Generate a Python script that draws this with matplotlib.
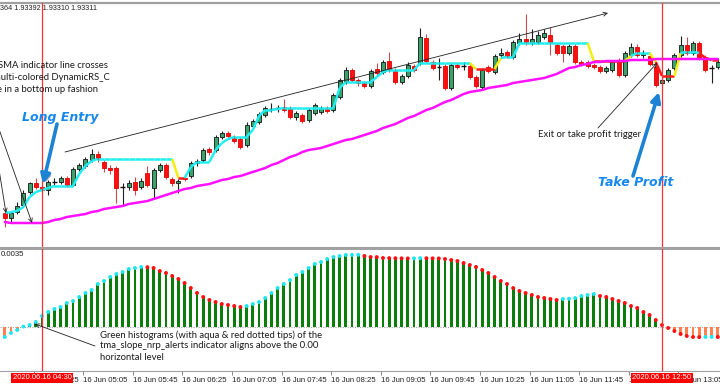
import numpy as np
import pandas as pd
import matplotlib
matplotlib.use("Agg")
import matplotlib.pyplot as plt
from matplotlib.collections import LineCollection
from matplotlib import patheffects as pe
import matplotlib.transforms as mtransforms

# 5 minute bars of 16 Jun 2020, prices in points above 1.92000
times = pd.date_range("2020-06-16 04:00", periods=116, freq="5min")

opens = [435, 410, 440, 475, 540, 585, 565, 550, 590, 590,
         610, 575, 655, 670, 700, 730, 690, 660, 660, 565,
         565, 590, 565, 635, 560, 650, 675, 605, 585, 610,
         620, 685, 700, 755, 750, 815, 835, 815, 805, 775,
         870, 890, 925, 955, 957, 965, 960, 915, 925, 900,
         935, 940, 960, 950, 1015, 1090, 1150, 1100, 1085, 1070,
         1155, 1140, 1195, 1150, 1090, 1120, 1170, 1185, 1310, 1190,
         1165, 1170, 1060, 1175, 1170, 1170, 1115, 1065, 1165, 1140,
         1225, 1240, 1215, 1285, 1305, 1285, 1290, 1315, 1325, 1275,
         1270, 1235, 1270, 1190, 1190, 1175, 1165, 1145, 1150, 1200,
         1125, 1225, 1265, 1225, 1220, 1165, 1085, 1100, 1160, 1225,
         1275, 1235, 1285, 1215, 1160, 1165]
closes = [410, 435, 470, 535, 585, 565, 550, 590, 588, 610,
          575, 655, 675, 705, 730, 705, 660, 650, 560, 563,
          585, 550, 595, 575, 650, 675, 615, 585, 595, 605,
          685, 695, 750, 740, 815, 835, 820, 795, 765, 875,
          895, 930, 960, 957, 958, 950, 915, 935, 895, 950,
          975, 960, 945, 1025, 1100, 1150, 1100, 1085, 1070, 1145,
          1135, 1190, 1150, 1090, 1120, 1175, 1150, 1315, 1195, 1160,
          1163, 1060, 1175, 1165, 1168, 1115, 1070, 1150, 1145, 1220,
          1235, 1220, 1290, 1305, 1285, 1305, 1325, 1335, 1285, 1235,
          1235, 1270, 1190, 1180, 1170, 1165, 1145, 1160, 1190, 1125,
          1235, 1265, 1225, 1235, 1180, 1075, 1100, 1150, 1225, 1275,
          1235, 1285, 1210, 1150, 1158, 1190]
highs = [450, 445, 490, 550, 590, 610, 575, 600, 610, 620,
         620, 665, 685, 715, 755, 745, 700, 675, 670, 585,
         600, 615, 610, 670, 660, 685, 685, 615, 605, 620,
         695, 705, 760, 765, 825, 845, 845, 825, 815, 890,
         905, 940, 970, 985, 975, 1005, 970, 945, 935, 960,
         985, 970, 970, 1035, 1110, 1165, 1160, 1110, 1095, 1155,
         1185, 1200, 1240, 1160, 1130, 1190, 1180, 1360, 1330, 1200,
         1210, 1180, 1185, 1185, 1190, 1180, 1125, 1160, 1175, 1230,
         1260, 1250, 1300, 1335, 1430, 1355, 1345, 1355, 1365, 1285,
         1280, 1280, 1280, 1200, 1200, 1185, 1175, 1170, 1200, 1210,
         1245, 1285, 1280, 1250, 1230, 1175, 1110, 1160, 1235, 1320,
         1315, 1295, 1295, 1225, 1175, 1210]
lows = [365, 390, 430, 465, 530, 555, 540, 525, 575, 580,
        565, 570, 645, 660, 690, 690, 640, 630, 485, 475,
        550, 525, 555, 565, 510, 640, 605, 570, 535, 595,
        610, 670, 690, 725, 740, 805, 805, 785, 755, 765,
        860, 880, 915, 940, 940, 940, 905, 900, 885, 890,
        925, 930, 935, 940, 1005, 1080, 1090, 1070, 1060, 1060,
        1125, 1130, 1140, 1080, 1080, 1110, 1140, 1175, 1185, 1150,
        1100, 1050, 1050, 1155, 1150, 1105, 1060, 1055, 1135, 1130,
        1215, 1210, 1205, 1275, 1275, 1275, 1280, 1305, 1225, 1225,
        1190, 1225, 1180, 1170, 1160, 1155, 1135, 1135, 1140, 1115,
        1115, 1215, 1215, 1210, 1170, 1065, 1075, 1090, 1150, 1215,
        1225, 1225, 1200, 1140, 1085, 1155]

# DynamicRS_C level and its state: u = up (aqua), y = turning (yellow), d = down (red)
drs = [440, 440, 445, 465, 515, 540, 550, 560, 570, 570,
       570, 570, 630, 670, 695, 705, 705, 705, 705, 705,
       705, 705, 705, 705, 705, 705, 705, 705, 610, 610,
       665, 690, 690, 690, 750, 785, 805, 815, 815, 815,
       850, 920, 950, 950, 955, 960, 960, 960, 960, 960,
       960, 960, 960, 960, 1060, 1090, 1090, 1090, 1090, 1090,
       1115, 1140, 1150, 1150, 1150, 1150, 1150, 1185, 1185, 1185,
       1185, 1185, 1185, 1185, 1185, 1185, 1155, 1155, 1155, 1155,
       1210, 1215, 1215, 1285, 1285, 1285, 1285, 1285, 1285, 1285,
       1285, 1285, 1285, 1285, 1285, 1195, 1195, 1195, 1195, 1195,
       1195, 1220, 1235, 1235, 1235, 1190, 1120, 1120, 1120, 1235,
       1240, 1240, 1235, 1210, 1200, 1200]
drs_state = ("u" * 28 + "yd" + "u" * 46 + "y" + "ddd" + "y" + "u" * 14 + "y"
             + "ddddd" + "y" + "uuu" + "y" + "ddd" + "y" + "uuu" + "ddd")

# SMA line
sma = [390, 385, 385, 385, 385, 385, 385, 390, 400, 405,
       415, 420, 425, 430, 440, 445, 455, 460, 465, 470,
       480, 485, 490, 495, 505, 515, 525, 535, 545, 555,
       560, 570, 575, 580, 590, 600, 605, 615, 620, 630,
       640, 650, 660, 675, 685, 700, 715, 725, 740, 750,
       755, 760, 770, 780, 790, 800, 805, 815, 825, 835,
       845, 860, 870, 880, 895, 910, 920, 935, 950, 960,
       975, 990, 1000, 1015, 1030, 1040, 1045, 1050, 1060, 1065,
       1070, 1075, 1085, 1090, 1095, 1100, 1105, 1110, 1120, 1130,
       1145, 1160, 1165, 1175, 1180, 1190, 1190, 1195, 1195, 1195,
       1195, 1200, 1200, 1200, 1200, 1205, 1205, 1205, 1205, 1205,
       1205, 1205, 1205, 1205, 1205, 1205]

# tma_slope_nrp_alerts, in units of 0.0001
slope = [-4.5, -2.7, -1.35, 0.2, 0.9, 2.25, 4.95, 6.75, 8.1, 9.0,
         10.8, 11.7, 13.5, 15.3, 16.65, 19.35, 20.7, 22.5, 23.85, 24.75,
         26.1, 26.55, 27.0, 26.9, 26.55, 25.2, 24.3, 22.95, 21.6, 19.8,
         17.55, 15.3, 13.5, 12.15, 11.25, 10.35, 9.9, 9.45, 9.0, 9.45,
         10.35, 11.25, 13.05, 15.3, 17.55, 19.35, 21.15, 23.4, 24.75, 26.55,
         28.35, 29.25, 30.6, 31.5, 31.95, 32.4, 32.45, 32.5, 31.95, 31.5,
         31.45, 31.05, 31.0, 30.95, 30.9, 30.85, 30.9, 31.0, 30.95, 30.9,
         30.85, 30.6, 30.15, 29.7, 28.8, 27.9, 27.0, 25.65, 24.3, 22.5,
         20.7, 19.35, 17.55, 16.2, 15.3, 14.4, 13.5, 13.05, 12.6, 12.15,
         12.6, 12.7, 13.05, 13.95, 14.4, 14.85, 13.95, 13.5, 12.6, 11.7,
         10.8, 9.45, 8.55, 6.75, 5.4, 3.15, 0.9, -0.45, -1.8, -3.15,
         -4.05, -4.5, -4.55, -4.5, -4.45, -4.5]

entry_time = "2020-06-16 04:30"
exit_time = "2020-06-16 12:50"

W, H = 720, 387
fig = plt.figure(figsize=(W / 100, H / 100), dpi=100)


def px(x, y):
    # pixel position (from top left) to figure fraction
    return (x / W, 1 - y / H)


ax1 = fig.add_axes([0, 1 - 247 / H, 1, 244 / H])
ax2 = fig.add_axes([0, 1 - 371 / H, 1, 122 / H])

x = np.arange(len(times))
o = np.array(opens)
c = np.array(closes)
hi = np.array(highs)
lo = np.array(lows)
doji = np.abs(c - o) <= 3
up = (c > o) & ~doji
dn = (c < o) & ~doji

wick_cols = np.where(dn, "#c25050", "#202020")
ax1.vlines(x, lo, hi, colors=wick_cols, lw=0.8, zorder=2)
ax1.bar(x[up], (c - o)[up], bottom=o[up], width=0.62, color="#3aa26a",
        edgecolor="#151515", linewidth=0.6, zorder=3)
ax1.bar(x[dn], (o - c)[dn], bottom=c[dn], width=0.62, color="#ff1010",
        edgecolor="#e00000", linewidth=0.6, zorder=3)
ax1.hlines(c[doji], x[doji] - 0.34, x[doji] + 0.34, color="#101010", lw=1.0, zorder=3)

state_cols = {"u": "#20eef0", "y": "#f5ee10", "d": "#ff1a1a"}
pts = np.column_stack([x, drs])
segs = np.stack([pts[:-1], pts[1:]], axis=1)
ax1.add_collection(LineCollection(segs, colors=[state_cols[s] for s in drs_state[1:]],
                                  linewidths=1.8, zorder=4))
ax1.plot(x, sma, color="#ff10ff", lw=1.8, zorder=5, solid_capstyle="round")

sl = np.array(slope) * 1e-4
ax2.axhline(0, color="#a8a8a8", lw=0.8, ls=(0, (1, 1.2)), zorder=0.5)
ax2.bar(x, sl, width=0.45, color=np.where(sl >= 0, "#0a7d0a", "#ff8050"), zorder=2)
rising = np.r_[True, np.diff(sl) >= 0]
ax2.scatter(x, sl, s=8, c=np.where(rising, "#1ee6f0", "#ff1010"), linewidths=0, zorder=3)

x0 = -42 / 6.2 + 6
for ax in (ax1, ax2):
    ax.set_xlim(x0, x0 + W / 6.2)
    for s in ("left", "right"):
        ax.spines[s].set_visible(False)
    for s in ("top", "bottom"):
        ax.spines[s].set_color("#a0a0a0")
    ax.set_yticks([])
ax1.set_ylim(265, 1485)
ax2.set_ylim(-19.8e-4, 35.1e-4)
ax1.spines["top"].set_linewidth(1.6)
ax2.spines["top"].set_linewidth(1.4)
ax1.set_xticks([])

# time axis
mins = times.hour * 60 + times.minute
tick_idx = np.where((mins - (4 * 60 + 25)) % 40 == 0)[0]
ax2.set_xticks(tick_idx - 0.35, [times[i].strftime("%d %b %H:%M") for i in tick_idx])
ax2.tick_params(axis="x", length=3, width=0.6, color="#707070", pad=1.5,
                labelsize=5.6, labelcolor="#202020")
for t in ax2.get_xticklabels():
    t.set_ha("left")
    t.set_family("Liberation Sans")

trans = mtransforms.blended_transform_factory(ax2.transData, ax2.transAxes)
for tm in (entry_time, exit_time):
    i = times.get_loc(pd.Timestamp(tm))
    ax1.axvline(i, color="#ff3030", lw=0.9, zorder=6)
    ax2.axvline(i, color="#ff3030", lw=0.9, zorder=6)
    ax2.text(i, -0.057, pd.Timestamp(tm).strftime("%Y.%m.%d %H:%M"), transform=trans,
             ha="center", va="center", color="white", fontsize=5.5, family="Liberation Sans",
             bbox=dict(boxstyle="square,pad=0.2", fc="#ff0000", ec="none"), zorder=10,
             clip_on=False)

# small texts of the terminal
fig.text(*px(0, 8), "364 1.93392 1.93310 1.93311", fontsize=5.2, family="Liberation Sans",
         color="#202020", va="center", ha="left")
fig.text(*px(1, 255), "0.0035", fontsize=5.6, family="Liberation Sans",
         color="#202020", va="center", ha="left")

# annotations
note = dict(fontsize=6.8, family="Lato", color="#1a1a1a", va="center")
fig.text(*px(108, 65), "SMA indicator line crosses", ha="right", **note)
fig.text(*px(110, 77), "multi-colored DynamicRS_C", ha="right", **note)
fig.text(*px(98, 89), "e in a bottom up fashion", ha="right", **note)
fig.text(*px(538, 135), "Exit or take profit trigger", ha="left", **note)
fig.text(*px(100, 335), "Green histograms (with aqua & red dotted tips) of the", ha="left", **note)
fig.text(*px(100, 346), "tma_slope_nrp_alerts indicator aligns above the 0.00", ha="left", **note)
fig.text(*px(100, 357), "horizontal level", ha="left", **note)

big = dict(fontsize=9, family="DejaVu Sans", weight="bold", style="italic",
           color="#1588f0", va="center", ha="left")
fig.text(*px(22, 117), "Long Entry", **big)
fig.text(*px(598, 183), "Take Profit", **big)

thin = dict(arrowstyle="->", color="#202020", lw=0.6, shrinkA=0, shrinkB=0,
            mutation_scale=7)
for a, b in [((65, 152), (608, 13)), ((598, 128), (657, 63)), ((-13, 95), (32, 223)),
             ((-13, 95), (6, 213)), ((95, 346), (35, 324))]:
    fig.add_artist(matplotlib.patches.FancyArrowPatch(px(*a), px(*b), transform=fig.transFigure,
                                                      **thin))

shadow = [pe.SimplePatchShadow(offset=(1.5, -1.5), alpha=0.35), pe.Normal()]
for a, b in [((57, 124), (43, 184)), ((633, 176), (659, 92))]:
    fig.add_artist(matplotlib.patches.FancyArrowPatch(px(*a), px(*b), transform=fig.transFigure,
                                                      arrowstyle="-|>", color="#1c82d4", lw=2.6,
                                                      mutation_scale=14, shrinkA=0, shrinkB=0,
                                                      path_effects=shadow))

fig.savefig("out.png", dpi=100, facecolor="white")
